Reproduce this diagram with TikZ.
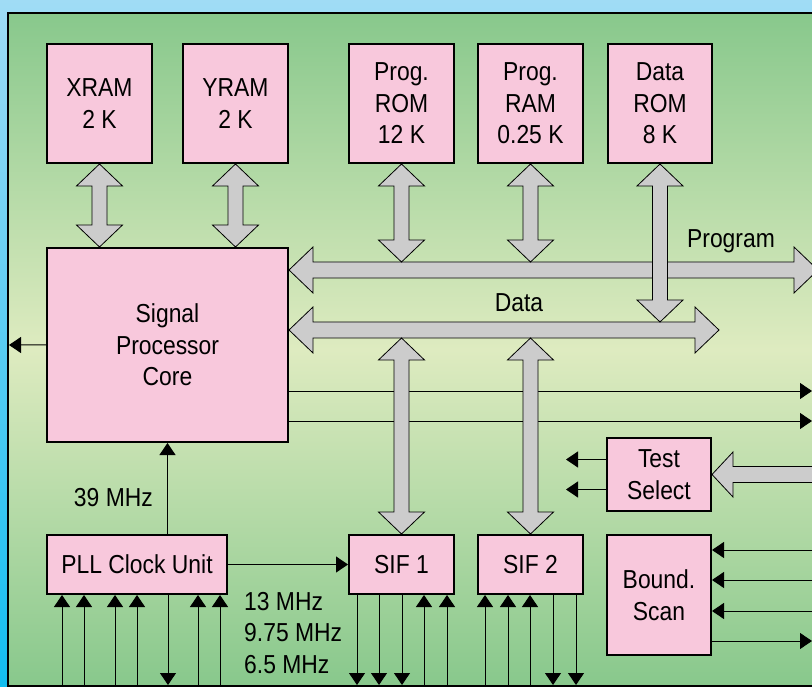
\documentclass[tikz,border=0pt]{standalone}
\usepackage{fontspec}
\setmainfont{Liberation Sans}[FakeStretch=0.88]
\usetikzlibrary{positioning,calc,arrows.meta}

\definecolor{boxpink}{RGB}{248,200,220}
\definecolor{busgray}{RGB}{204,204,204}
\definecolor{bgtop}{RGB}{160,220,245}
\definecolor{bgbot}{RGB}{18,190,240}
\definecolor{grn}{RGB}{136,200,140}
\definecolor{grnmid}{RGB}{222,235,192}

% wide double arrow, top tip #1 down to bottom tip #2
\newcommand{\vbus}[2]{%
  \draw[bus] let \p1=(#1), \p2=(#2) in
    (\x1,\y1) -- (\x1+23pt,\y1-22pt) -- (\x1+7.5pt,\y1-22pt)
    -- (\x1+7.5pt,\y2+22pt) -- (\x1+23pt,\y2+22pt) -- (\x1,\y2)
    -- (\x1-23pt,\y2+22pt) -- (\x1-7.5pt,\y2+22pt)
    -- (\x1-7.5pt,\y1-22pt) -- (\x1-23pt,\y1-22pt) -- cycle;}
% wide double arrow, left tip #1 to right tip #2
\newcommand{\hbus}[2]{%
  \draw[bus] let \p1=(#1), \p2=(#2) in
    (\x1,\y1) -- (\x1+24pt,\y1+23pt) -- (\x1+24pt,\y1+8pt)
    -- (\x2-24pt,\y1+8pt) -- (\x2-24pt,\y1+23pt) -- (\x2,\y1)
    -- (\x2-24pt,\y1-23pt) -- (\x2-24pt,\y1-8pt)
    -- (\x1+24pt,\y1-8pt) -- (\x1+24pt,\y1-23pt) -- cycle;}
% wide single arrow, tip #1 on the left, tail #2 on the right
\newcommand{\lbus}[2]{%
  \draw[bus] let \p1=(#1), \p2=(#2) in
    (\x1,\y1) -- (\x1+21pt,\y1+22.5pt) -- (\x1+21pt,\y1+8pt)
    -- (\x2,\y1+8pt) -- (\x2,\y1-8pt) -- (\x1+21pt,\y1-8pt)
    -- (\x1+21pt,\y1-22.5pt) -- cycle;}

\begin{document}
\begin{tikzpicture}[x=1pt, y=-1pt,
    block/.style={draw, line width=1.8pt, fill=boxpink, align=center,
      inner sep=0pt, font=\fontsize{26}{31.5}\selectfont},
    bus/.style={draw, line width=0.8pt, fill=busgray, line join=miter},
    sig/.style={line width=1pt, -{Triangle[length=12pt,width=16pt]}},
    lbl/.style={inner sep=0pt, font=\fontsize{26}{31.5}\selectfont}]
    \useasboundingbox (0,0) rectangle (812,687);
    \clip (0,0) rectangle (812,687);

    % background
    \shade[top color=bgtop, bottom color=bgbot] (0,0) rectangle (812,687);
    \shadedraw[top color=grn, bottom color=grn, middle color=grnmid,
      line width=2pt] (8.3,13) rectangle (830,685.5);

    % memories
    \node[block, minimum width=105.2pt, minimum height=119.2pt] (xram) at (99.5,103.5) {XRAM\\2 K};
    \node[block, minimum width=105.2pt, minimum height=119.2pt, right=29pt of xram] (yram) {YRAM\\2 K};
    \node[block, minimum width=105.2pt, minimum height=119.2pt, right=59pt of yram] (prom) {Prog.\\ROM\\12 K};
    \node[block, minimum width=105.2pt, minimum height=119.2pt, right=22pt of prom] (pram) {Prog.\\RAM\\0.25 K};
    \node[block, minimum width=104.2pt, minimum height=119.2pt, right=23pt of pram] (drom) {Data\\ROM\\8 K};

    % core and peripherals
    \node[block, minimum width=241.2pt, minimum height=194.2pt,
      below=83pt of xram.south west, anchor=north west] (spc) {Signal\\Processor\\Core};
    \node[block, minimum width=180.2pt, minimum height=59.2pt,
      below=91pt of spc.south west, anchor=north west] (pll) {PLL Clock Unit};
    \node[block, minimum width=105.2pt, minimum height=59.2pt, right=120pt of pll] (sif1) {SIF 1};
    \node[block, minimum width=105.2pt, minimum height=59.2pt, right=22pt of sif1] (sif2) {SIF 2};
    \node[block, minimum width=104.2pt, minimum height=120.2pt,
      right=22pt of sif2.north east, anchor=north west] (bscan) {Bound.\\Scan};
    \node[block, minimum width=104.2pt, minimum height=73.2pt, above=22pt of bscan] (tsel) {Test\\Select};

    % labels
    \node[lbl, anchor=base] (prog) at (731,248) {Program};
    \node[lbl, anchor=base] (data) at (519,312) {Data};
    \node[lbl, anchor=base east] (f39) at (153,506) {39 MHz};
    \node[lbl, anchor=base west] (f13) at (244,610) {13 MHz};
    \node[lbl, anchor=base west] (f975) at (244,641.5) {9.75 MHz};
    \node[lbl, anchor=base west] (f65) at (244,673) {6.5 MHz};

    % free ends
    \coordinate (w1) at (9,345);
    \coordinate (o1) at (812,391);
    \coordinate (o2) at (812,421);
    \coordinate (t1) at (566,459.5);
    \coordinate (t2) at (566,489.5);
    \coordinate (s1) at (812,550);
    \coordinate (s2) at (812,580);
    \coordinate (s3) at (812,611);
    \coordinate (s4) at (812,641);
    \coordinate (pout) at (168,685);
    \coordinate (pbus) at (818,270);
    \coordinate (pbusT) at (818,262);
    \coordinate (dbus) at (719,330);
    \coordinate (dbusT) at (719,322);
    \coordinate (dbusB) at (719,338);
    \coordinate (tin) at (816,474.5);

    % Connect the nodes
    \draw[sig] (spc.west) -- (w1); %
    \draw[sig] (spc.east |- o1) -- (o1); %
    \draw[sig] (spc.east |- o2) -- (o2); %
    \draw[sig] (spc.south |- pll.north) -- (spc.south); %
    \draw[sig] (pll) -- (sif1); %
    \draw[sig] (tsel.west |- t1) -- (t1); %
    \draw[sig] (tsel.west |- t2) -- (t2); %
    \draw[sig] (s1) -- (bscan.east |- s1); %
    \draw[sig] (s2) -- (bscan.east |- s2); %
    \draw[sig] (s3) -- (bscan.east |- s3); %
    \draw[sig] (bscan.east |- s4) -- (s4); %
    \draw[sig] (pll.south -| pout) -- (pout); %

    % pins at the bottom
    \foreach \x in {62,84,115,137,198,220}{
      \coordinate (pin) at (\x,685);
      \draw[sig] (pin) -- (pin |- pll.south);}
    \foreach \x in {357,379,402}{
      \coordinate (pin) at (\x,685);
      \draw[sig] (pin |- sif1.south) -- (pin);}
    \foreach \x in {424,447}{
      \coordinate (pin) at (\x,685);
      \draw[sig] (pin) -- (pin |- sif1.south);}
    \foreach \x in {485,508,530}{
      \coordinate (pin) at (\x,685);
      \draw[sig] (pin) -- (pin |- sif2.south);}
    \foreach \x in {553,576}{
      \coordinate (pin) at (\x,685);
      \draw[sig] (pin |- sif2.south) -- (pin);}

    % buses
    \hbus{spc.east |- pbus}{pbus}
    \hbus{spc.east |- dbus}{dbus}
    \vbus{xram.south}{spc.north}
    \vbus{yram.south}{spc.north}
    \vbus{prom.south}{pbusT}
    \vbus{pram.south}{pbusT}
    \vbus{drom.south}{dbusT}
    \vbus{sif1.north |- dbusB}{sif1.north}
    \vbus{sif2.north |- dbusB}{sif2.north}
    \lbus{tsel.east}{tin}
\end{tikzpicture}
\end{document}
